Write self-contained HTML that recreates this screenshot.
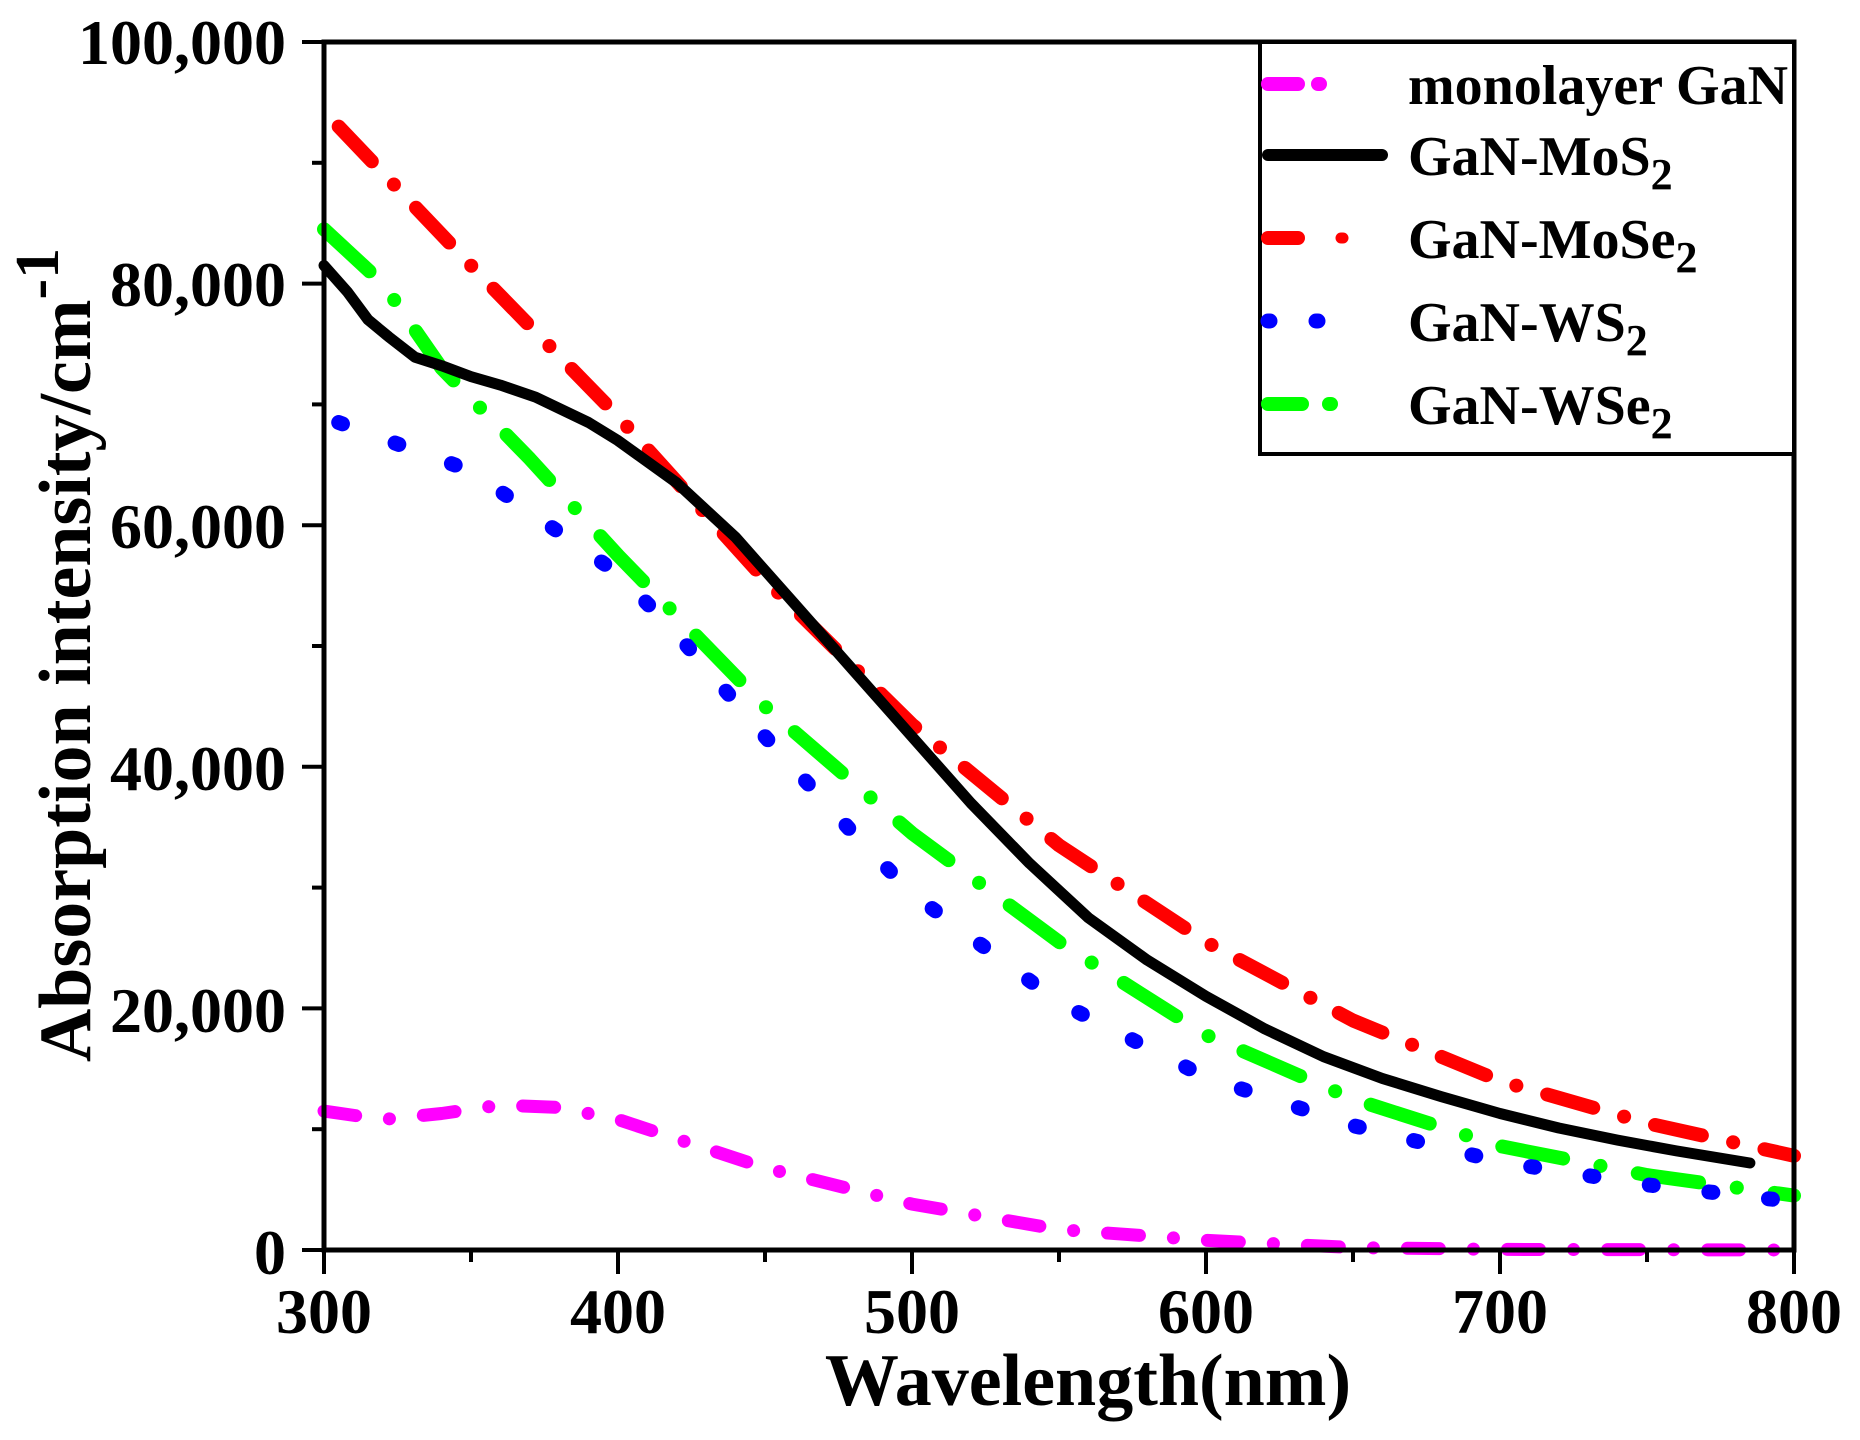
<!DOCTYPE html>
<html><head><meta charset="utf-8"><style>
html,body{margin:0;padding:0;background:#fff}
svg{display:block}
text{font-family:"Liberation Serif",serif;font-weight:bold;fill:#000}
</style></head><body>
<svg width="1860" height="1440" viewBox="0 0 1860 1440" xmlns="http://www.w3.org/2000/svg">
<g fill="none" stroke-linecap="round" stroke-linejoin="round">
<polyline stroke="#ff00ff" stroke-width="13" stroke-dasharray="32 34 0.1 34" points="324,1111.1 382.8,1119.5 441.6,1113.5 500.4,1105 559.2,1107.5 618,1119.5 676.8,1138.9 765,1167.9 912,1204.1 1059,1229.5 1206,1240.3 1353,1247.6 1500,1249.4 1794,1250"/>
<polyline stroke="#00ff00" stroke-width="14" stroke-dasharray="62 38 0.1 38" points="324,229.2 382.8,283.6 441.6,368.2 529.8,458.8 618,555.4 765,706.4 912,833.2 1059,941.9 1206,1035 1353,1099 1500,1146.1 1647,1175.1 1794,1195.6"/>
<polyline stroke="#0000ff" stroke-width="15" stroke-dasharray="4 56" points="338.7,422.5 471,470.8 618,573.5 676.8,633.9 765,736.6 853.2,833.2 912,893.6 1059,1002.4 1206,1077.3 1353,1125.6 1500,1161.8 1647,1184.8 1794,1201.7"/>
<polyline stroke="#ff0000" stroke-width="14" stroke-dasharray="48 32 0.1 32" points="338.7,126.6 471,265.5 618,416.5 765,579.6 912,724.5 1059,845.3 1206,942 1353,1020.5 1500,1080.9 1647,1123.2 1794,1155.8"/>
<polyline stroke="#000" stroke-width="11" points="324,265.5 347.5,292 368.1,319.8 388.7,336.8 415.1,357.3 441.6,365.7 471,376.6 500.4,385.1 535.7,397.2 588.6,422.5 618,440.6 676.8,482.9 735.6,537.3 794.4,603.7 853.2,670.2 912,736.6 970.8,803 1029.6,863.4 1088.4,917.8 1147.2,960.1 1206,996.3 1264.8,1028.9 1323.6,1056.7 1382.4,1078.5 1441.2,1096.6 1500,1113.5 1558.8,1128 1617.6,1140.1 1676.4,1150.9 1749.9,1163"/>
</g>
<rect x="324" y="42" width="1470" height="1208" fill="none" stroke="#000" stroke-width="5"/>
<g stroke="#000" stroke-width="4">
<line x1="302" y1="1250" x2="324" y2="1250"/><line x1="312" y1="1129.2" x2="324" y2="1129.2"/>
<line x1="302" y1="1008.4" x2="324" y2="1008.4"/><line x1="312" y1="887.6" x2="324" y2="887.6"/>
<line x1="302" y1="766.8" x2="324" y2="766.8"/><line x1="312" y1="646" x2="324" y2="646"/>
<line x1="302" y1="525.2" x2="324" y2="525.2"/><line x1="312" y1="404.4" x2="324" y2="404.4"/>
<line x1="302" y1="283.6" x2="324" y2="283.6"/><line x1="312" y1="162.8" x2="324" y2="162.8"/>
<line x1="302" y1="42" x2="324" y2="42"/>
<line x1="324" y1="1250" x2="324" y2="1274"/><line x1="471" y1="1250" x2="471" y2="1262"/>
<line x1="618" y1="1250" x2="618" y2="1274"/><line x1="765" y1="1250" x2="765" y2="1262"/>
<line x1="912" y1="1250" x2="912" y2="1274"/><line x1="1059" y1="1250" x2="1059" y2="1262"/>
<line x1="1206" y1="1250" x2="1206" y2="1274"/><line x1="1353" y1="1250" x2="1353" y2="1262"/>
<line x1="1500" y1="1250" x2="1500" y2="1274"/><line x1="1647" y1="1250" x2="1647" y2="1262"/>
<line x1="1794" y1="1250" x2="1794" y2="1274"/>
</g>
<g font-size="64" text-anchor="end">
<text x="286" y="64">100,000</text>
<text x="286" y="306">80,000</text>
<text x="286" y="548">60,000</text>
<text x="286" y="790">40,000</text>
<text x="286" y="1032">20,000</text>
<text x="286" y="1274">0</text>
</g>
<g font-size="64" text-anchor="middle">
<text x="324" y="1333">300</text>
<text x="618" y="1333">400</text>
<text x="912" y="1333">500</text>
<text x="1206" y="1333">600</text>
<text x="1500" y="1333">700</text>
<text x="1794" y="1333">800</text>
</g>
<text x="1088" y="1405" font-size="74" text-anchor="middle">Wavelength(nm)</text>
<text transform="translate(90,655) rotate(-90)" font-size="74" text-anchor="middle">Absorption intensity/cm<tspan dy="-32" font-size="62">-1</tspan></text>
<rect x="1260" y="42" width="534" height="412" fill="#fff" stroke="#000" stroke-width="4"/>
<g fill="none" stroke-linecap="round" stroke-width="14">
<line x1="1268" y1="84" x2="1298" y2="84" stroke="#ff00ff"/>
<line x1="1318" y1="84" x2="1320" y2="84" stroke="#ff00ff"/>
<line x1="1268" y1="155" x2="1382" y2="155" stroke="#000" stroke-width="12"/>
<line x1="1268" y1="238" x2="1298" y2="238" stroke="#ff0000"/>
<line x1="1341" y1="238" x2="1343" y2="238" stroke="#ff0000" stroke-width="11"/>
<line x1="1268" y1="321" x2="1270" y2="321" stroke="#0000ff" stroke-width="15"/>
<line x1="1316" y1="321" x2="1318" y2="321" stroke="#0000ff" stroke-width="15"/>
<line x1="1268" y1="404" x2="1302" y2="404" stroke="#00ff00"/>
<line x1="1329" y1="404" x2="1331" y2="404" stroke="#00ff00"/>
</g>
<g font-size="56">
<text x="1408" y="104">monolayer GaN</text>
<text x="1408" y="175">GaN-MoS<tspan dy="14" font-size="44">2</tspan></text>
<text x="1408" y="258">GaN-MoSe<tspan dy="14" font-size="44">2</tspan></text>
<text x="1408" y="341">GaN-WS<tspan dy="14" font-size="44">2</tspan></text>
<text x="1408" y="424">GaN-WSe<tspan dy="14" font-size="44">2</tspan></text>
</g>
</svg>
</body></html>
